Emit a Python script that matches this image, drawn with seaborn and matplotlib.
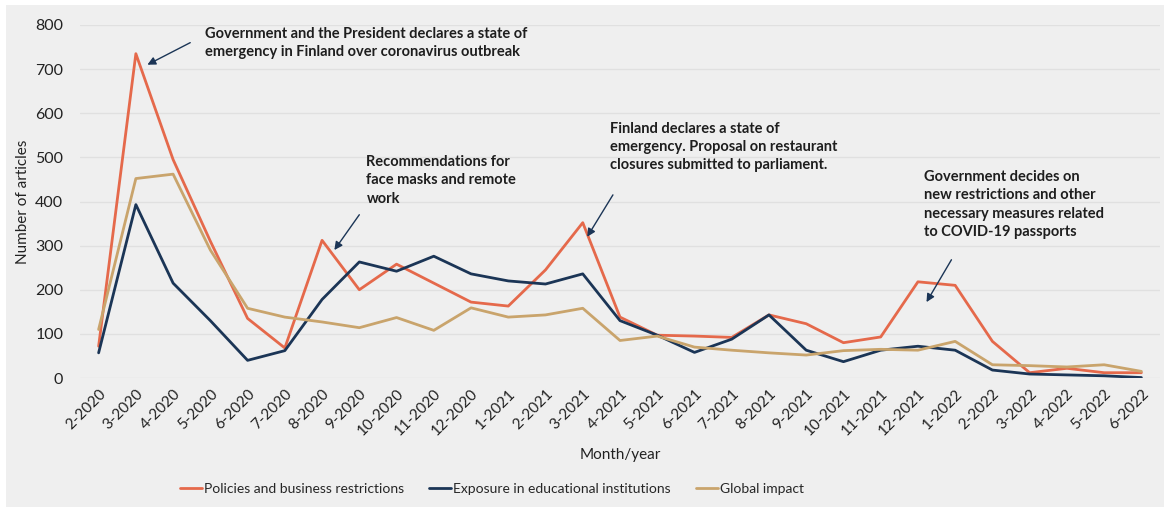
import pandas as pd
import matplotlib.pyplot as plt
import seaborn as sns
from matplotlib.patches import Rectangle

# Monthly article counts.
months = ['2-2020', '3-2020', '4-2020', '5-2020', '6-2020', '7-2020', '8-2020', '9-2020',
          '10-2020', '11-2020', '12-2020', '1-2021', '2-2021', '3-2021', '4-2021', '5-2021',
          '6-2021', '7-2021', '8-2021', '9-2021', '10-2021', '11-2021', '12-2021', '1-2022',
          '2-2022', '3-2022', '4-2022', '5-2022', '6-2022']
policies = [72, 735, 495, 310, 135, 68, 312, 200, 258, 215, 172, 163, 245, 352, 138,
            97, 95, 92, 143, 123, 80, 93, 218, 210, 83, 12, 22, 12, 12]
exposure = [57, 393, 215, 130, 40, 62, 178, 263, 242, 276, 236, 220, 213, 236, 130,
            97, 58, 88, 143, 63, 37, 63, 72, 63, 18, 9, 7, 5, 1]
global_impact = [110, 452, 462, 290, 158, 138, 127, 114, 137, 108, 159, 138, 143, 158, 85,
                 95, 70, 63, 57, 52, 62, 65, 63, 83, 30, 28, 25, 30, 15]
series_names = ['Policies and business restrictions', 'Exposure in educational institutions',
                'Global impact']
colors = ['#e5694b', '#1b3556', '#c9a46c']

df = pd.DataFrame({'month': months,
                   series_names[0]: policies,
                   series_names[1]: exposure,
                   series_names[2]: global_impact})
long = df.melt(id_vars='month', var_name='series', value_name='articles')
long['pos'] = long['month'].map({m: i for i, m in enumerate(months)})

sns.set_style('white')
plt.rcParams['font.family'] = ['Lato', 'DejaVu Sans']

bg = '#efefef'
fig = plt.figure(figsize=(11.64, 5.09), dpi=100, facecolor='white')
# grey panel with a thin white margin on the left/top like the original screenshot
fig.patches.append(Rectangle((6 / 1164, 2 / 509), 1, 1 - 7 / 509, transform=fig.transFigure,
                             facecolor=bg, edgecolor='none', zorder=-10))
ax = fig.add_axes([80 / 1164, 1 - 378 / 509, 1080 / 1164, 353 / 509])
ax.set_facecolor(bg)

sns.lineplot(data=long, x='pos', y='articles', hue='series', palette=colors,
             hue_order=series_names, linewidth=2, ax=ax, legend=False)

ax.set_xlim(-0.5, len(months) - 0.5)
ax.set_ylim(0, 800)
ax.set_yticks(range(0, 801, 100))
ax.set_xticks(range(len(months)))
ax.set_xticklabels(months, rotation=45, ha='right', rotation_mode='anchor')
ax.tick_params(axis='x', labelsize=11, colors='#222222', length=0, pad=6)
ax.tick_params(axis='y', labelsize=11.5, colors='#222222', length=0, pad=12)
ax.grid(axis='y', color='#e0e0e0', linewidth=1)
ax.set_axisbelow(True)
for s in ax.spines.values():
    s.set_visible(False)

ax.set_ylabel('Number of articles', fontsize=11, color='#222222', labelpad=4)
ax.set_xlabel('Month/year', fontsize=11, color='#222222', labelpad=7)

# annotations
arrow = dict(arrowstyle='-|>', color='#1b3556', lw=1, mutation_scale=12, shrinkA=0, shrinkB=0)
tfont = dict(fontsize=10.5, fontweight='bold', color='#1e1e1e', va='top', ha='left',
             linespacing=1.38)
ax.annotate('', xy=(1.31, 710), xytext=(2.46, 760), arrowprops=arrow)
ax.text(2.86, 795, 'Government and the President declares a state of\n'
        'emergency in Finland over coronavirus outbreak', **tfont)
ax.annotate('', xy=(6.33, 290), xytext=(7.0, 370), arrowprops=arrow)
ax.text(7.19, 505, 'Recommendations for\nface masks and remote\nwork', **tfont)
ax.annotate('', xy=(13.12, 320), xytext=(13.81, 415), arrowprops=arrow)
ax.text(13.73, 580, 'Finland declares a state of\nemergency. Proposal on restaurant\n'
        'closures submitted to parliament.', **tfont)
ax.annotate('', xy=(22.23, 172), xytext=(22.9, 268), arrowprops=arrow)
ax.text(22.15, 471, 'Government decides on\nnew restrictions and other\n'
        'necessary measures related\nto COVID-19 passports', **tfont)

# legend below the axis
handles = [plt.Line2D([], [], color=c, lw=2) for c in colors]
fig.legend(handles, series_names, loc='center', bbox_to_anchor=(492 / 1164, 1 - 489 / 509),
           ncol=3, frameon=False, handlelength=1.6, handletextpad=0.15,
           columnspacing=1.8, fontsize=10)

plt.savefig('out.png', dpi=100, facecolor='white')
